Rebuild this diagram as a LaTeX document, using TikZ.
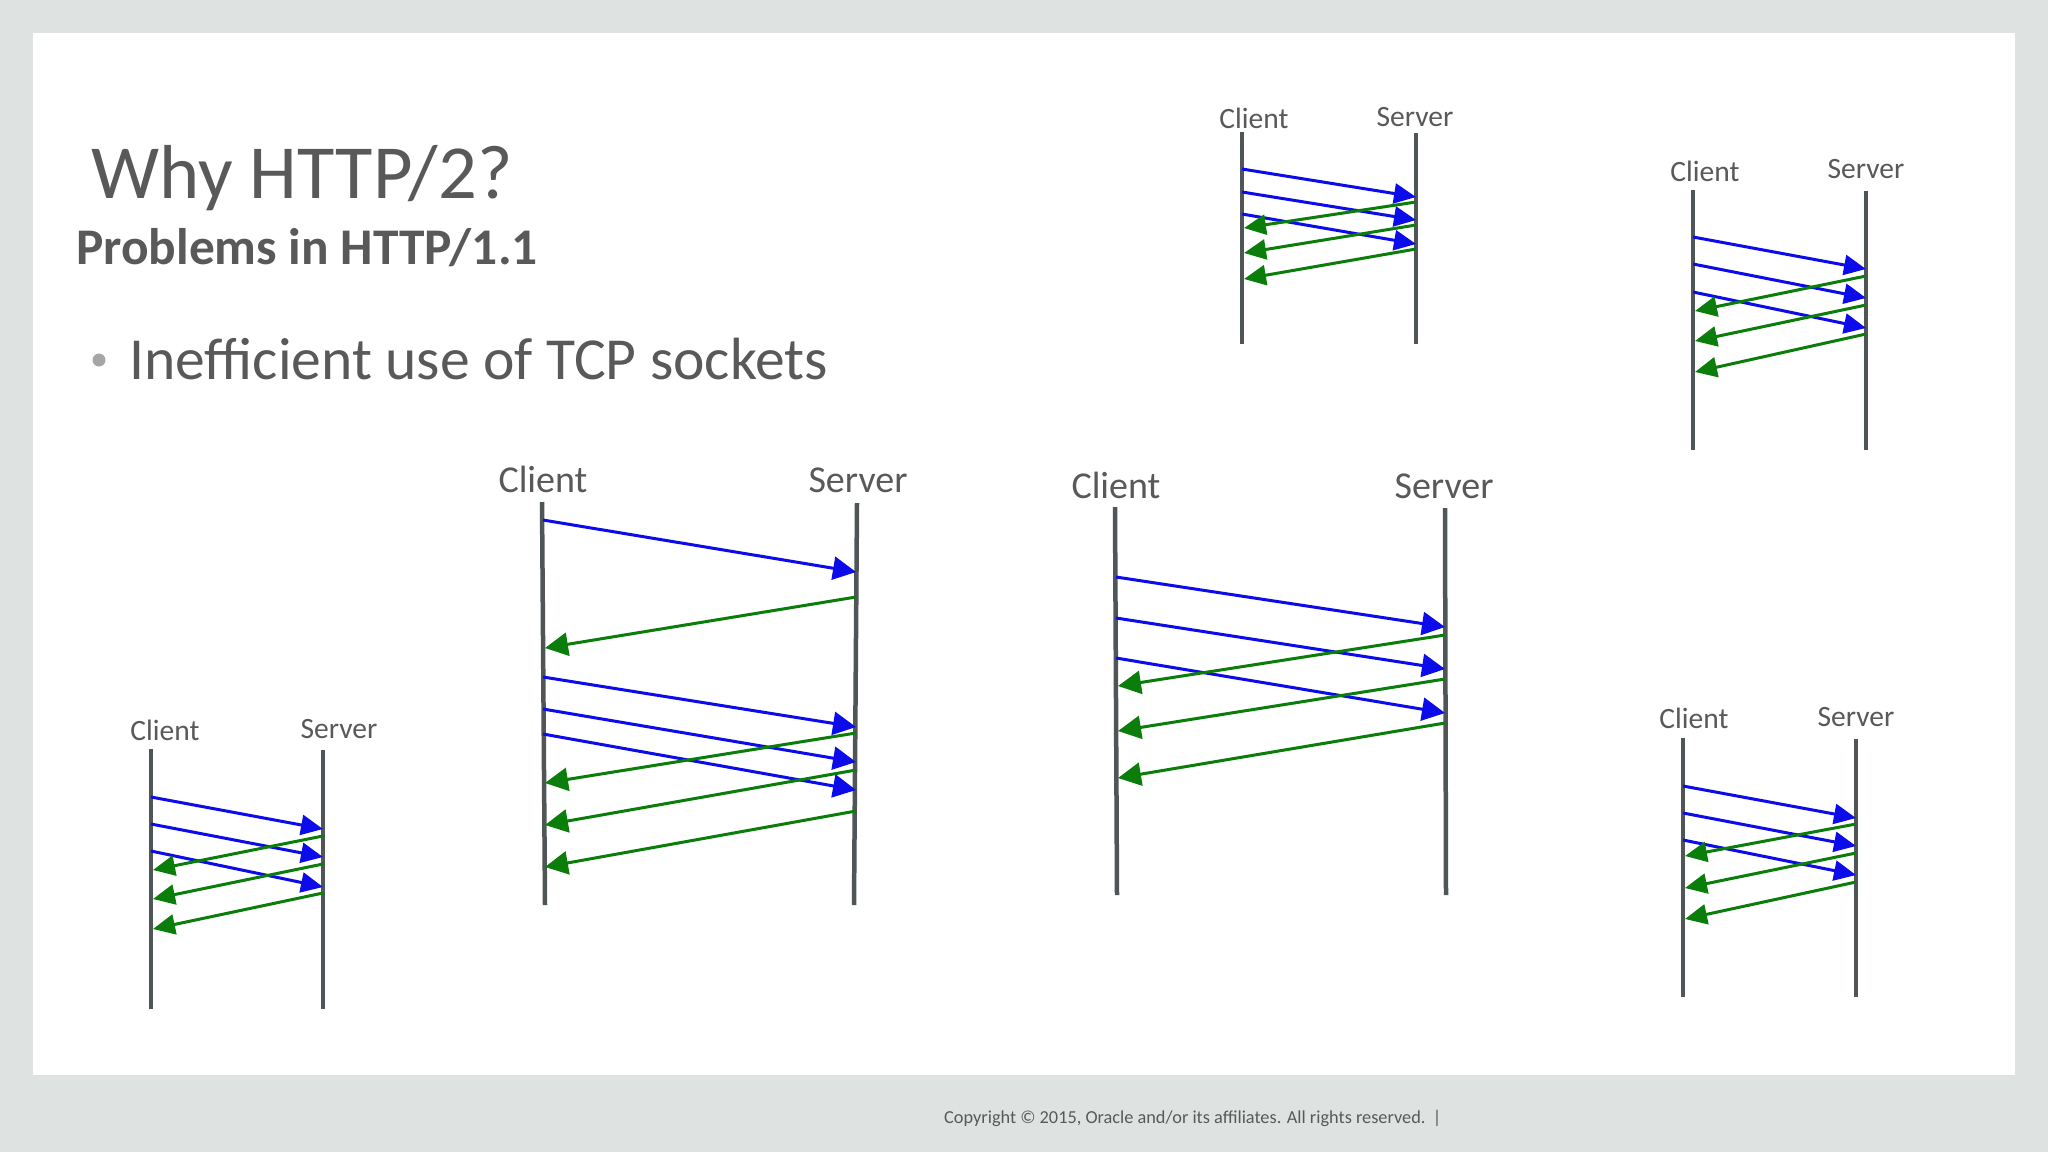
\documentclass[tikz,border=0pt]{standalone}
\usepackage{fontspec}
\setmainfont{Carlito}
\usetikzlibrary{arrows.meta}
\definecolor{outerbg}{RGB}{222,227,226}
\definecolor{txtgray}{RGB}{89,89,89}
\definecolor{bulletgray}{RGB}{166,166,166}
\definecolor{lifegray}{RGB}{80,86,88}
\definecolor{reqblue}{RGB}{12,12,235}
\definecolor{respgreen}{RGB}{10,125,10}
\begin{document}
\begin{tikzpicture}[x=1pt,y=-1pt,
  lifeline/.style={line width=4.5pt,draw=lifegray},
  req/.style={line width=3pt,draw=reqblue,fill=reqblue,-{Triangle[length=22pt,width=20pt]}},
  resp/.style={line width=3pt,draw=respgreen,fill=respgreen,-{Triangle[length=22pt,width=20pt]}},
  reqbig/.style={req,-{Triangle[length=23pt,width=23pt]}},
  respbig/.style={resp,-{Triangle[length=23pt,width=23pt]}},
  lbl/.style={inner sep=0pt,anchor=base,text=txtgray},
  smalllbl/.style={lbl,font=\fontsize{29.5}{32}\selectfont},
  biglbl/.style={lbl,font=\fontsize{38}{40}\selectfont},
]
\useasboundingbox (0,0) rectangle (2048,1152);
\fill[outerbg] (0,0) rectangle (2048,1152);
\fill[white] (33,33) rectangle (2015,1075);

% ---- Title texts ----
\node[inner sep=0pt,anchor=base west,text=txtgray,font=\fontsize{76.5}{80}\selectfont] (title) at (91,198) {Why HTTP/2?};
\node[inner sep=0pt,anchor=base west,text=txtgray,font=\bfseries\fontsize{51.4}{56}\selectfont] (subtitle) at (76,264) {Problems in HTTP/1.1};
\node[circle,fill=bulletgray,inner sep=0pt,minimum size=13pt] (bulletdot) at (99,360) {};
\node[inner sep=0pt,anchor=base west,text=txtgray,font=\fontsize{59.6}{64}\selectfont] (bullet) at (129,379) {Inefficient use of TCP sockets};

% ---- Footer ----
\node[inner sep=0pt,anchor=base west,text=txtgray,font=\fontsize{18.3}{20}\selectfont] (footer) at (944,1123) {Copyright \textcopyright{} 2015, Oracle and/or its affiliates. All rights reserved.};
\node[inner sep=0pt,anchor=base,text=txtgray,font=\fontsize{18.3}{20}\selectfont] (footbar) at (1437,1123) {|};

% ---- Diagram A (top centre) ----
\coordinate (Act) at (1242,132); \coordinate (Acb) at (1242,344);
\coordinate (Ast) at (1416,133); \coordinate (Asb) at (1416,344);
\node[smalllbl] (AcL) at (1254,128) {Client};
\node[smalllbl] (AsL) at (1415,126) {Server};
\draw[lifeline] (Act) -- (Acb);
\draw[lifeline] (Ast) -- (Asb);
\foreach \n/\ya/\yb in {1/169/197,2/192/220,3/214/244}{
  \coordinate (Ab\n s) at (1242,\ya); \coordinate (Ab\n e) at (1416,\yb);
  \draw[req] (Ab\n s) -- (Ab\n e);}
\foreach \n/\ya/\yb in {1/202/228,2/225/253,3/249/279}{
  \coordinate (Ag\n s) at (1416,\ya); \coordinate (Ag\n e) at (1244,\yb);
  \draw[resp] (Ag\n s) -- (Ag\n e);}

% ---- Diagram B (top right) ----
\coordinate (Bct) at (1693,190); \coordinate (Bcb) at (1693,450);
\coordinate (Bst) at (1866,191); \coordinate (Bsb) at (1866,450);
\node[smalllbl] (BcL) at (1705,181) {Client};
\node[smalllbl] (BsL) at (1866,178) {Server};
\draw[lifeline] (Bct) -- (Bcb);
\draw[lifeline] (Bst) -- (Bsb);
\foreach \n/\ya/\yb in {1/237/269,2/264/298,3/292/328}{
  \coordinate (Bb\n s) at (1693,\ya); \coordinate (Bb\n e) at (1866,\yb);
  \draw[req] (Bb\n s) -- (Bb\n e);}
\foreach \n/\ya/\yb in {1/276/311,2/305/341,3/334/372}{
  \coordinate (Bg\n s) at (1866,\ya); \coordinate (Bg\n e) at (1695,\yb);
  \draw[resp] (Bg\n s) -- (Bg\n e);}

% ---- Diagram C (bottom left) ----
\coordinate (Cct) at (151,749); \coordinate (Ccb) at (151,1009);
\coordinate (Cst) at (323,750); \coordinate (Csb) at (323,1009);
\node[smalllbl] (CcL) at (165,740) {Client};
\node[smalllbl] (CsL) at (339,738) {Server};
\draw[lifeline] (Cct) -- (Ccb);
\draw[lifeline] (Cst) -- (Csb);
\foreach \n/\ya/\yb in {1/797/829,2/824/857,3/851/887}{
  \coordinate (Cb\n s) at (151,\ya); \coordinate (Cb\n e) at (323,\yb);
  \draw[req] (Cb\n s) -- (Cb\n e);}
\foreach \n/\ya/\yb in {1/836/870,2/864/899,3/893/929}{
  \coordinate (Cg\n s) at (323,\ya); \coordinate (Cg\n e) at (153,\yb);
  \draw[resp] (Cg\n s) -- (Cg\n e);}

% ---- Diagram D (centre left) ----
\coordinate (Dct) at (542,502); \coordinate (Dcb) at (545,905);
\coordinate (Dst) at (857,503); \coordinate (Dsb) at (854,905);
\node[biglbl] (DcL) at (543,492) {Client};
\node[biglbl] (DsL) at (858,492) {Server};
\draw[lifeline] (Dct) -- (Dcb);
\draw[lifeline] (Dst) -- (Dsb);
\foreach \n/\ya/\yb in {1/520/572,2/677/727,3/709/762,4/734/790}{
  \coordinate (Db\n s) at (543,\ya); \coordinate (Db\n e) at (856,\yb);
  \draw[reqbig] (Db\n s) -- (Db\n e);}
\foreach \n/\ya/\yb in {1/597/648,2/733/783,3/770/825,4/811/867}{
  \coordinate (Dg\n s) at (856,\ya); \coordinate (Dg\n e) at (545,\yb);
  \draw[respbig] (Dg\n s) -- (Dg\n e);}

% ---- Diagram E (centre right) ----
\coordinate (Ect) at (1115,507); \coordinate (Ecb) at (1117,895);
\coordinate (Est) at (1445,508); \coordinate (Esb) at (1446,895);
\node[biglbl] (EcL) at (1116,498) {Client};
\node[biglbl] (EsL) at (1444,498) {Server};
\draw[lifeline] (Ect) -- (Ecb);
\draw[lifeline] (Est) -- (Esb);
\foreach \n/\ya/\yb in {1/577/627,2/618/669,3/658/713}{
  \coordinate (Eb\n s) at (1116,\ya); \coordinate (Eb\n e) at (1445,\yb);
  \draw[reqbig] (Eb\n s) -- (Eb\n e);}
\foreach \n/\ya/\yb in {1/635/686,2/679/731,3/723/778}{
  \coordinate (Eg\n s) at (1445,\ya); \coordinate (Eg\n e) at (1118,\yb);
  \draw[respbig] (Eg\n s) -- (Eg\n e);}

% ---- Diagram F (bottom right) ----
\coordinate (Fct) at (1683,738); \coordinate (Fcb) at (1683,997);
\coordinate (Fst) at (1856,739); \coordinate (Fsb) at (1856,997);
\node[smalllbl] (FcL) at (1694,728) {Client};
\node[smalllbl] (FsL) at (1856,726) {Server};
\draw[lifeline] (Fct) -- (Fcb);
\draw[lifeline] (Fst) -- (Fsb);
\foreach \n/\ya/\yb in {1/786/818,2/813/846,3/840/875}{
  \coordinate (Fb\n s) at (1683,\ya); \coordinate (Fb\n e) at (1856,\yb);
  \draw[req] (Fb\n s) -- (Fb\n e);}
\foreach \n/\ya/\yb in {1/824/856,2/853/888,3/882/919}{
  \coordinate (Fg\n s) at (1856,\ya); \coordinate (Fg\n e) at (1685,\yb);
  \draw[resp] (Fg\n s) -- (Fg\n e);}
\end{tikzpicture}
\end{document}
